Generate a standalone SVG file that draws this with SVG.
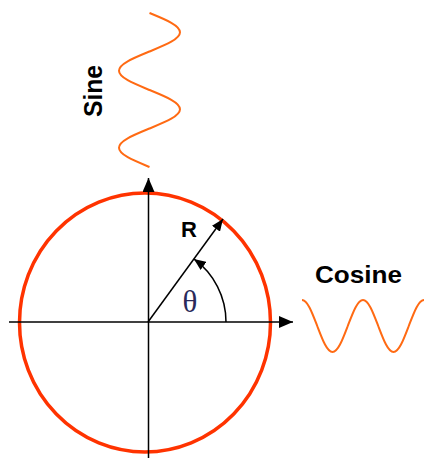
<svg xmlns="http://www.w3.org/2000/svg" width="428" height="458" viewBox="0 0 428 458">
<defs>
<style>
.axis{stroke:#000;stroke-width:1.5;fill:none}
.wave{stroke:#FF6A13;stroke-width:2;fill:none}
.lbl{font-family:"Liberation Sans",Arial,sans-serif;font-weight:bold;fill:#000}
</style>
<marker id="ah" markerUnits="userSpaceOnUse" viewBox="0 0 14 12" refX="14" refY="6" markerWidth="14" markerHeight="12" orient="auto">
<path d="M0,0 L14,6 L0,12 z" fill="#000"/>
</marker>
<marker id="ahs" markerUnits="userSpaceOnUse" viewBox="0 0 12 10" refX="12" refY="5" markerWidth="12" markerHeight="10" orient="auto">
<path d="M0,0 L12,5 L0,10 z" fill="#000"/>
</marker>
</defs>
<rect width="428" height="458" fill="#fff"/>
<g id="circle">
<ellipse cx="145" cy="322.5" rx="125.5" ry="129.5" fill="none" stroke="#FF3300" stroke-width="3.5"/>
</g>
<g id="connectors">
<line class="axis" x1="9" y1="322" x2="293" y2="322" marker-end="url(#ah)"/>
<line class="axis" x1="148.5" y1="458" x2="148.5" y2="178" marker-end="url(#ah)"/>
<line class="axis" x1="148" y1="322" x2="223" y2="219" marker-end="url(#ahs)"/>
<path class="axis" d="M226,322 A78,78 0 0 0 193.85,258.9" marker-end="url(#ahs)"/>
</g>
<g id="sine">
<path class="wave" d="M149.5,13 C165.1,19.44 180,25.28 180,32.25 C180,39.22 165.1,45.06 149.5,51.5 C133.9,57.94 119,63.78 119,70.75 C119,77.72 133.9,83.56 149.5,90 C165.1,96.44 180,102.28 180,109.25 C180,116.22 165.1,122.06 149.5,128.5 C133.9,134.94 119,140.78 119,147.75 C119,154.72 133.9,160.56 149.5,167"/>
<text class="lbl" font-size="25" text-anchor="middle" textLength="52" lengthAdjust="spacingAndGlyphs" transform="translate(102,91) rotate(-90)">Sine</text>
</g>
<g id="cosine">
<path class="wave" d="M302,300 C307.52,300 312.15,312.69 317.25,326 C322.35,339.31 326.98,352 332.5,352 C338.02,352 342.65,339.31 347.75,326 C352.85,312.69 357.48,300 363,300 C368.52,300 373.15,312.69 378.25,326 C383.35,339.31 387.98,352 393.5,352 C399.02,352 403.65,339.31 408.75,326 C413.85,312.69 418.48,300 424,300"/>
<text class="lbl" font-size="23" x="358.5" y="283" text-anchor="middle" textLength="87" lengthAdjust="spacingAndGlyphs">Cosine</text>
</g>
<g id="labels">
<text class="lbl" font-size="22" x="189" y="237" text-anchor="middle">R</text>
<text font-family="'Liberation Serif','Times New Roman',serif" font-size="31" x="190" y="312" text-anchor="middle" fill="#2a2a5a">θ</text>
</g>
</svg>
